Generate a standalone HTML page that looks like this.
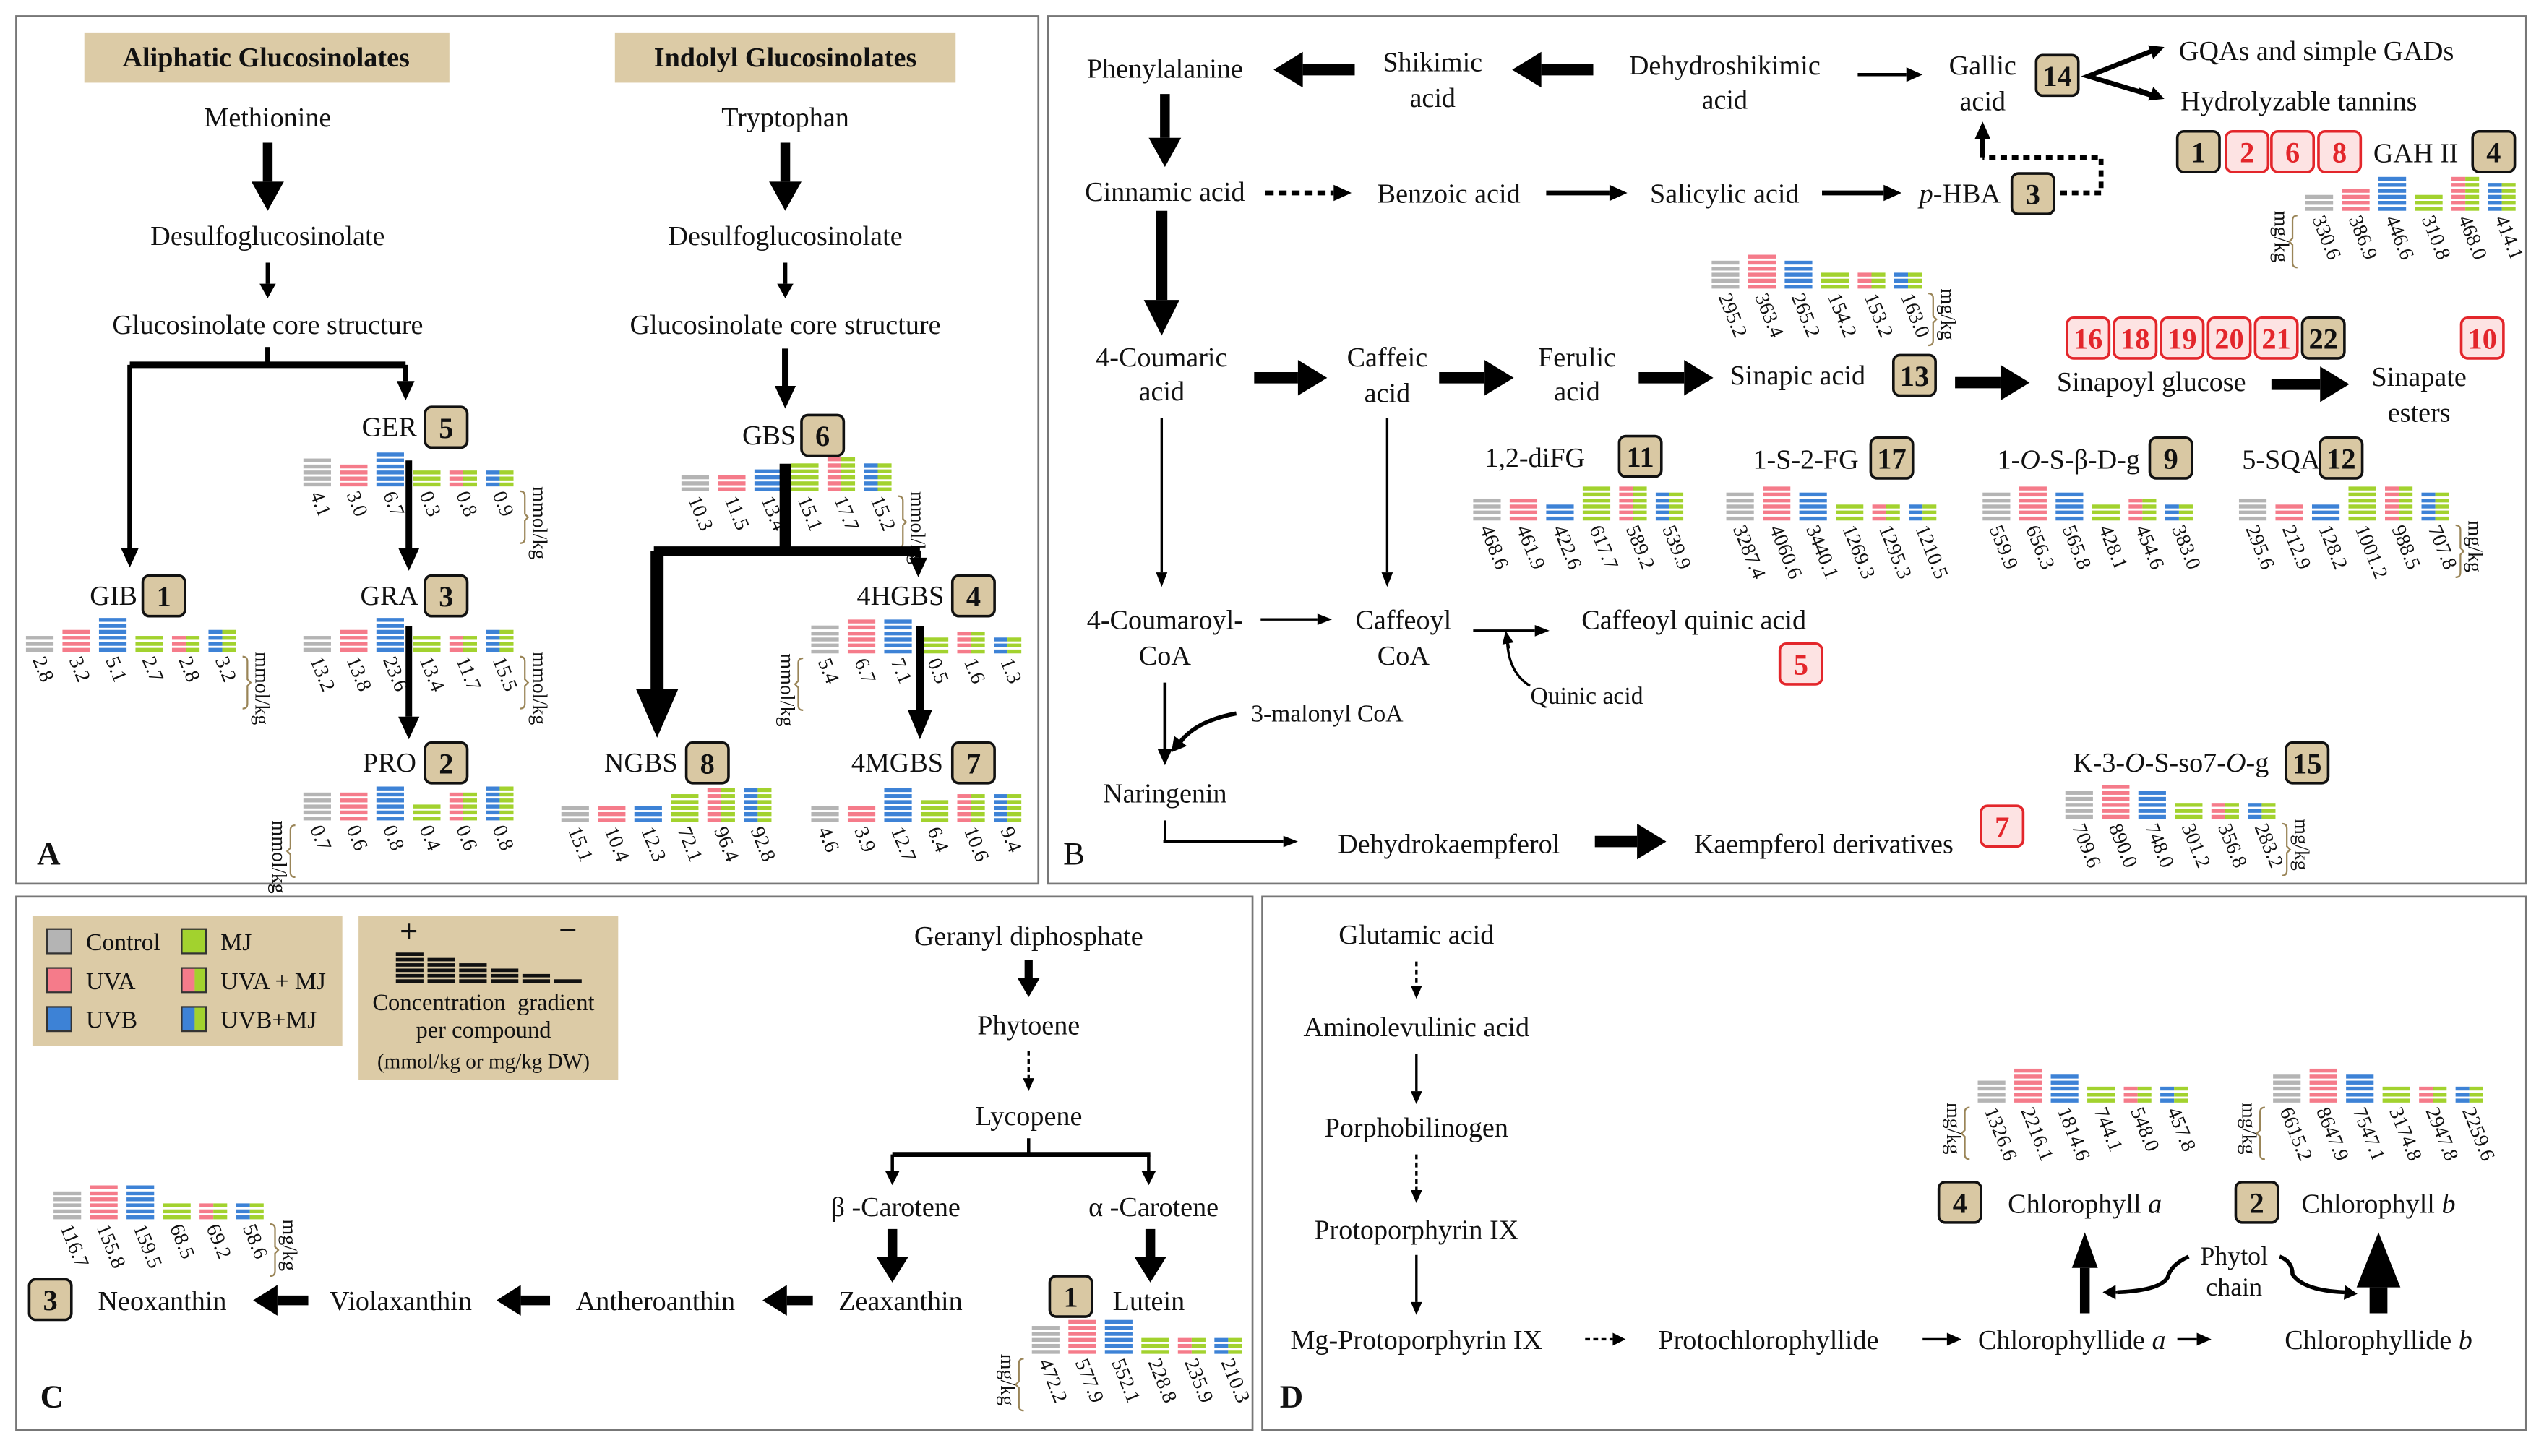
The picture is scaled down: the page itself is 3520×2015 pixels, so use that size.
<!DOCTYPE html>
<html><head><meta charset="utf-8">
<style>
html,body{margin:0;padding:0;background:#fff;}
svg{display:block;}
text{font-family:"Liberation Serif",serif;fill:#111;}
</style></head>
<body>
<svg id="s" width="3520" height="2015" viewBox="0 0 1568 898" preserveAspectRatio="none" xmlns="http://www.w3.org/2000/svg">
<rect x="0" y="0" width="1568" height="898" fill="#fff"/>
<g fill="none" stroke="#777" stroke-width="1.2">
<rect x="10" y="10" width="630" height="535"/>
<rect x="646" y="10" width="911" height="535"/>
<rect x="10" y="553" width="762" height="329"/>
<rect x="778" y="553" width="779" height="329"/>
</g>
<g id="g"></g>
</svg>
<script>
const NS="http://www.w3.org/2000/svg";
const G=document.getElementById('g');
function el(t,a,txt){const e=document.createElementNS(NS,t);for(const k in a)e.setAttribute(k,a[k]);if(txt!==undefined)e.textContent=txt;G.appendChild(e);return e;}
function T(x,y,s,o){o=o||{};const e=el('text',{x:x,y:y,'font-size':o.fs||17,'text-anchor':o.a||'middle','font-weight':o.b?'bold':'normal','font-style':o.i?'italic':'normal'});e.innerHTML=s;if(o.fill)e.setAttribute('style','fill:'+o.fill);return e;}
function box(x,y,n,red,w){w=w||26;el('rect',{x:x,y:y,width:w,height:25,rx:4,fill:red?'#fde3e3':'#d9c8a3',stroke:red?'#e3262b':'#111','stroke-width':1.6});T(x+w/2,y+19,n,{b:1,fs:18,fill:red?'#e3262b':'#111'});}
function A(x1,y1,x2,y2,w,hw,hl,dash){const dx=x2-x1,dy=y2-y1,L=Math.hypot(dx,dy),ux=dx/L,uy=dy/L,px=-uy,py=ux;
 const bx=x2-ux*hl,by=y2-uy*hl;
 const a={x1:x1,y1:y1,x2:bx,y2:by,stroke:'#000','stroke-width':w};if(dash)a['stroke-dasharray']=dash;el('line',a);
 el('polygon',{points:`${x2},${y2} ${bx+px*hw/2},${by+py*hw/2} ${bx-px*hw/2},${by-py*hw/2}`,fill:'#000'});}
function L(pts,w,dash){const a={points:pts,fill:'none',stroke:'#000','stroke-width':w};if(dash)a['stroke-dasharray']=dash;el('polyline',a);}
const C=['#b4b4b4','#f57b8a','#3d82d6','#a2d22e'];
function glyph(x,yb,vals,unit,side){const mn=Math.min(...vals),mx=Math.max(...vals);const P=22.5,W=17;
 vals.forEach((v,i)=>{const n=Math.round(3+3*(v-mn)/(mx-mn||1));const cx=x+i*P;
  for(let k=0;k<n;k++){const y=yb-2.4-k*3.7;
   if(i<4)el('rect',{x:cx,y:y,width:W,height:2.4,fill:C[i]});
   else{el('rect',{x:cx,y:y,width:W/2,height:2.4,fill:C[i==4?1:2]});el('rect',{x:cx+W/2,y:y,width:W/2,height:2.4,fill:C[3]});}}
  const tx=cx+4,ty=yb+5;el('text',{x:tx,y:ty,'font-size':12.5,'text-anchor':'start',transform:`rotate(68 ${tx} ${ty})`},v.toFixed(1));});
 if(unit){let bx,ux;if(side=='r'){bx=x+5*P+W+4;ux=bx+8;}else{bx=x-5;ux=bx-14;}
  el('path',{d:side=='r'?`M${bx},${yb+3} q3,0 3,3 v11 l2,2 l-2,2 v11 q0,3 -3,3`:`M${bx},${yb+3} q-3,0 -3,3 v11 l-2,2 l2,2 v11 q0,3 3,3`,fill:'none',stroke:'#9a8558','stroke-width':1});
  el('text',{x:ux,y:yb,'font-size':12.5,'text-anchor':'start',transform:`rotate(90 ${ux} ${yb})`},unit);}}

/* ---------- Panel A ---------- */
el('rect',{x:52,y:20,width:225,height:31,fill:'#dccba6'});T(164,41,'Aliphatic Glucosinolates',{b:1});
el('rect',{x:379,y:20,width:210,height:31,fill:'#dccba6'});T(484,41,'Indolyl Glucosinolates',{b:1});
T(165,78,'Methionine');A(165,88,165,130,6,20,18);
T(165,151,'Desulfoglucosinolate');A(165,162,165,184,2.5,10,9);
T(165,206,'Glucosinolate core structure');
L('165,214 165,225',3);L('80,225 250,225',4);
A(80,225,80,350,3,11,12);A(250,225,250,247,3,11,12);
T(240,269,'GER');box(262,251,'5');
glyph(187,300,[4.1,3.0,6.7,0.3,0.8,0.9],'mmol/kg','r');
A(252,284,252,352,4,13,14);
T(240,373,'GRA');box(262,355,'3');
T(70,373,'GIB');box(88,355,'1');
glyph(16,402,[2.8,3.2,5.1,2.7,2.8,3.2],'mmol/kg','r');
glyph(187,402,[13.2,13.8,23.6,13.4,11.7,15.5],'mmol/kg','r');
A(252,386,252,456,4,13,14);
T(240,476,'PRO');box(262,458,'2');
glyph(187,506,[0.7,0.6,0.8,0.4,0.6,0.8],'mmol/kg','l');
T(484,78,'Tryptophan');A(484,88,484,130,6,20,18);
T(484,151,'Desulfoglucosinolate');A(484,162,484,184,2.5,10,9);
T(484,206,'Glucosinolate core structure');A(484,215,484,252,4,13,14);
T(474,274,'GBS');box(494,256,'6');
glyph(420,303,[10.3,11.5,13.4,15.1,17.7,15.2],'mmol/kg','r');
L('484,286 484,340',7);L('403,340 567,340',6);
A(405,340,405,455,8,26,30);A(566,340,566,356,3,11,12);
T(555,373,'4HGBS');box(587,355,'4');
glyph(500,403,[5.4,6.7,7.1,0.5,1.6,1.3],'mmol/kg','l');
A(567,386,567,456,5,15,18);
T(395,476,'NGBS');box(423,458,'8');
T(553,476,'4MGBS');box(587,458,'7');
glyph(346,507,[15.1,10.4,12.3,72.1,96.4,92.8]);
glyph(500,507,[4.6,3.9,12.7,6.4,10.6,9.4]);
T(30,533,'A',{b:1,fs:20});

/* ---------- Panel B ---------- */
T(718,48,'Phenylalanine');A(835,43,785,43,7,22,18);
T(883,44,'Shikimic');T(883,66,'acid');A(982,43,932,43,7,22,18);
T(1063,46,'Dehydroshikimic');T(1063,67,'acid');A(1145,46,1185,46,2,9,10);
T(1222,46,'Gallic');T(1222,68,'acid');box(1255,34,'14');
L('1330,30 1287,47 1330,60',3);A(1318,35,1334,29,2,9,9);A(1318,55,1334,61,2,9,9);
T(1343,37,'GQAs and simple GADs',{a:'start'});T(1344,68,'Hydrolyzable tannins',{a:'start'});
box(1342,81,'1');box(1372,81,'2',1);box(1400,81,'6',1);box(1429,81,'8',1);T(1489,100,'GAH II');box(1524,81,'4');
glyph(1421,130,[330.6,386.9,446.6,310.8,468.0,414.1],'mg/kg','l');
A(718,58,718,103,6,20,18);
T(718,124,'Cinnamic acid');A(780,119,833,119,3,10,11,'5,3');
T(893,125,'Benzoic acid');A(953,119,1003,119,3,10,11);
T(1063,125,'Salicylic acid');A(1123,119,1172,119,3,10,11);
T(1208,125,'<tspan font-style="italic">p</tspan>-HBA');box(1240,107,'3');
L('1270,119 1295,119 1295,97 1222,97',3,'4,3');A(1222,97,1222,75,3,10,11);
A(716,130,716,207,7,22,22);
T(716,226,'4-Coumaric');T(716,247,'acid');A(773,233,818,233,7,22,18);
T(855,226,'Caffeic');T(855,248,'acid');A(887,233,933,233,7,22,18);
T(972,226,'Ferulic');T(972,247,'acid');A(1010,233,1056,233,7,22,18);
T(1108,237,'Sinapic acid');box(1167,219,'13');
glyph(1055,178,[295.2,363.4,265.2,154.2,153.2,163.0],'mg/kg','r');
A(1205,236,1251,236,7,22,18);
T(1326,241,'Sinapoyl glucose');
box(1274,196,'16',1);box(1303,196,'18',1);box(1332,196,'19',1);box(1361,196,'20',1);box(1390,196,'21',1);box(1419,196,'22');
A(1400,237,1448,237,7,22,18);
T(1491,238,'Sinapate');T(1491,260,'esters');box(1517,196,'10',1);
T(946,288,'1,2-diFG');box(998,269,'11');
T(1113,289,'1-S-2-FG');box(1153,270,'17');
T(1275,289,'1-<tspan font-style="italic">O</tspan>-S-β-D-g');box(1325,270,'9');
T(1406,289,'5-SQA');box(1430,270,'12');
glyph(908,321,[468.6,461.9,422.6,617.7,589.2,539.9]);
glyph(1064,321,[3287.4,4060.6,3440.1,1269.3,1295.3,1210.5]);
glyph(1222,321,[559.9,656.3,565.8,428.1,454.6,383.0]);
glyph(1380,321,[295.6,212.9,128.2,1001.2,988.5,707.8],'mg/kg','r');
A(716,258,716,362,1.5,7,9);A(855,258,855,362,1.5,7,9);
T(718,388,'4-Coumaroyl-');T(718,410,'CoA');A(777,382,821,382,1.5,7,9);
T(865,388,'Caffeoyl');T(865,410,'CoA');A(908,389,955,389,1.5,7,9);
T(1044,388,'Caffeoyl quinic acid');box(1097,397,'5',1);
T(978,434,'Quinic acid',{fs:15});el('path',{d:'M943,423 Q930,415 929,396',fill:'none',stroke:'#000','stroke-width':1.5});A(930,400,928,389,1.5,7,8);
A(718,421,718,472,2,9,10);T(818,445,'3-malonyl CoA',{fs:15});
el('path',{d:'M762,440 Q735,445 726,460',fill:'none',stroke:'#000','stroke-width':2.5});A(730,454,722,464,2,10,9);
T(718,495,'Naringenin');L('718,506 718,519',1.5);A(717,519,800,519,1.5,7,9);
T(893,526,'Dehydrokaempferol');A(983,519,1027,519,7,22,18);
T(1124,526,'Kaempferol derivatives');box(1221,497,'7',1);
T(1338,476,'K-3-<tspan font-style="italic">O</tspan>-S-so7-<tspan font-style="italic">O</tspan>-g');box(1409,458,'15');
glyph(1273,505,[709.6,890.0,748.0,301.2,356.8,283.2],'mg/kg','r');
T(662,533,'B',{fs:20});

/* ---------- Panel C ---------- */
el('rect',{x:20,y:565,width:191,height:80,fill:'#dccba6'});
const lg=[[29,573,0,'Control'],[29,597,1,'UVA'],[29,621,2,'UVB'],[112,573,3,'MJ'],[112,597,4,'UVA + MJ'],[112,621,5,'UVB+MJ']];
lg.forEach(l=>{const [x,y,c,t]=l;if(c<4)el('rect',{x:x,y:y,width:15,height:15,fill:C[c],stroke:'#333','stroke-width':1});
 else{el('rect',{x:x,y:y,width:8,height:15,fill:C[c==4?1:2]});el('rect',{x:x+8,y:y,width:7,height:15,fill:C[3]});el('rect',{x:x,y:y,width:15,height:15,fill:'none',stroke:'#333','stroke-width':1});}
 T(x+24,y+13,t,{a:'start',fs:15});});
el('rect',{x:221,y:565,width:160,height:101,fill:'#dccba6'});
T(252,581,'+',{b:1,fs:20});T(350,580,'−',{b:1,fs:20});
[6,5,4,3,2,1].forEach((n,i)=>{for(let k=0;k<n;k++)el('rect',{x:244+i*19.5,y:604-k*3.3,width:17,height:2.1,fill:'#111'});});
T(298,623,'Concentration&#160;&#160;gradient',{fs:14.5});T(298,640,'per compound',{fs:14.5});T(298,659,'(mmol/kg or mg/kg DW)',{fs:13});
T(634,583,'Geranyl diphosphate');A(634,592,634,615,5,14,12);
T(634,638,'Phytoene');A(634,648,634,673,1.5,7,8,'3,2');
T(634,694,'Lycopene');L('634,702 634,712',2);L('550,712 709,712',3);
A(550,712,550,731,2,9,9);A(708,712,708,731,2,9,9);
T(552,750,'β -Carotene');T(711,750,'α -Carotene');
A(550,758,550,791,6,20,16);A(709,758,709,791,6,20,16);
T(555,808,'Zeaxanthin');T(708,808,'Lutein');box(647,787,'1');
A(501,802,470,802,6,19,15);T(404,808,'Antheroanthin');
A(339,802,306,802,6,19,15);T(247,808,'Violaxanthin');
A(190,802,156,802,6,19,15);T(100,808,'Neoxanthin');box(18,789,'3');
glyph(33,752,[116.7,155.8,159.5,68.5,69.2,58.6],'mg/kg','r');
glyph(636,835,[472.2,577.9,552.1,228.8,235.9,210.3],'mg/kg','l');
T(32,868,'C',{b:1,fs:20});

/* ---------- Panel D ---------- */
T(873,582,'Glutamic acid');A(873,593,873,616,1.5,7,8,'3,2');
T(873,639,'Aminolevulinic acid');A(873,650,873,681,1.5,7,8);
T(873,701,'Porphobilinogen');A(873,712,873,742,1.5,7,8,'3,2');
T(873,764,'Protoporphyrin IX');A(873,774,873,811,1.5,7,8);
T(873,832,'Mg-Protoporphyrin IX');A(977,826,1002,826,1.5,8,8,'3,2');
T(1090,832,'Protochlorophyllide');A(1185,826,1209,826,1.5,8,9);
T(1277,832,'Chlorophyllide <tspan font-style="italic">a</tspan>');A(1342,826,1363,826,1.5,8,9);
T(1466,832,'Chlorophyllide <tspan font-style="italic">b</tspan>');
A(1285,810,1285,760,6,16,22);A(1466,810,1466,760,11,27,34);
T(1285,748,'Chlorophyll <tspan font-style="italic">a</tspan>');box(1195,729,'4');
T(1466,748,'Chlorophyll <tspan font-style="italic">b</tspan>');box(1378,729,'2');
T(1377,780,'Phytol',{fs:16});T(1377,799,'chain',{fs:16});
el('path',{d:'M1349,775 Q1338,780 1336,788 Q1331,796 1305,797',fill:'none',stroke:'#000','stroke-width':2.5});A(1305,797,1296,797,2,9,8);
el('path',{d:'M1405,775 Q1413,778 1413,786 Q1420,796 1445,797',fill:'none',stroke:'#000','stroke-width':2.5});A(1443,797,1453,798,2,9,8);
glyph(1219,680,[1326.6,2216.1,1814.6,744.1,548.0,457.8],'mg/kg','l');
glyph(1401,680,[6615.2,8647.9,7547.1,3174.8,2947.8,2259.6],'mg/kg','l');
T(796,868,'D',{b:1,fs:20});
</script>
</body></html>
